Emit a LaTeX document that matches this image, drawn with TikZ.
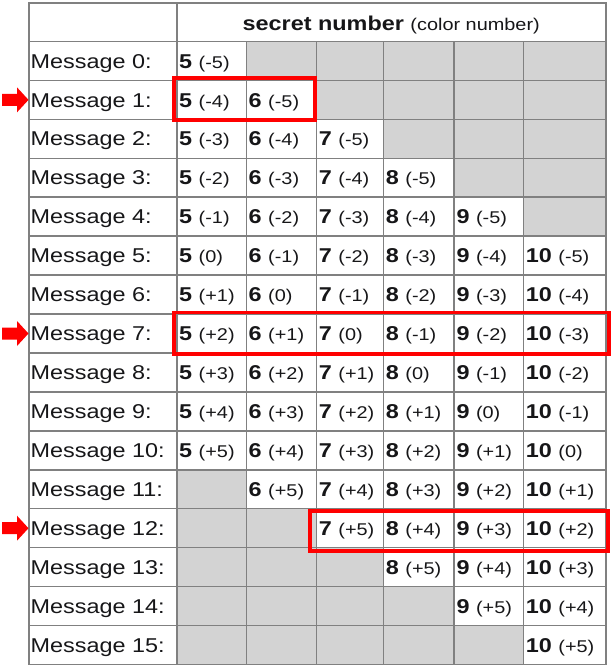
\documentclass[tikz,border=0pt]{standalone}
\usepackage{fontspec}
\setmainfont[FakeStretch=1.17, BoldFeatures={FakeStretch=1.17}]{Liberation Sans}
\definecolor{gridgray}{RGB}{128,128,128}
\definecolor{emptygray}{RGB}{211,211,211}
\definecolor{inkblack}{RGB}{22,22,24}
\definecolor{markred}{RGB}{255,0,0}
\newcommand\colsize{\fontsize{17}{20}\selectfont}
\newcommand\numsize{\fontsize{20}{24}\selectfont}
\tikzset{
  cell/.style={draw=gridgray, line width=1.5pt, inner sep=0pt, anchor=north west},
  blank/.style={cell, fill=emptygray},
  msgtext/.style={anchor=base west, inner sep=0pt, text=inkblack, font=\numsize},
  hilite/.style={draw=markred, line width=3.6pt},
  pointer/.style={fill=markred}
}
\begin{document}
\begin{tikzpicture}[x=1pt,y=-1pt]
  \useasboundingbox (0,0) rectangle (612,668);
  \node[cell, minimum width=148pt, minimum height=38.4pt] (corner) at (28,2.3) {};
  \node[cell, minimum width=429pt, minimum height=38.4pt] (head) at (176,2.3) {};
  \node[anchor=base, inner sep=0pt, text=inkblack, font=\numsize] (headtext) at ([yshift=-7.8pt]head.center)
    {{\bfseries secret number\ }{\colsize(color number)}};
  \foreach \r in {0,...,15} {
    \pgfmathsetmacro\rowtop{40.7+\r*38.94}
    \node[cell, minimum width=148pt, minimum height=38.94pt] (m-\r) at (28,\rowtop) {};
    \node[msgtext] (mt-\r) at ([xshift=2.5pt,yshift=-7.2pt]m-\r.west) {Message \r:};
    \foreach \c/\x/\w in {0/176/69.5, 1/245.5/70.2, 2/315.7/67, 3/382.7/70.6, 4/453.3/69.4, 5/522.7/82.3} {
      \pgfmathtruncatemacro\v{\r-5-\c}
      \pgfmathtruncatemacro\n{\c+5}
      \pgfmathtruncatemacro\used{and(\v>-6,\v<6)}
      \ifnum\used=1
        \node[cell, minimum width=\w pt, minimum height=38.94pt] (c-\r-\c) at (\x,\rowtop) {};
        \node[msgtext] (t-\r-\c) at ([xshift=3pt,yshift=-7.2pt]c-\r-\c.west)
          {{\bfseries\n}\ {\colsize(\ifnum\v>0 +\fi\v)}};
      \else
        \node[blank, minimum width=\w pt, minimum height=38.94pt] (c-\r-\c) at (\x,\rowtop) {};
      \fi
    }
  }
  \draw[hilite] ([xshift=-2.3pt,yshift=1.6pt]c-1-0.north west) rectangle ([xshift=-2pt]c-1-1.south east);
  \draw[hilite] ([xshift=-2.3pt,yshift=0.8pt]c-7-0.north west) rectangle ([xshift=2.5pt]c-7-5.south east);
  \draw[hilite] ([xshift=-5.7pt,yshift=-3pt]c-12-2.north west) rectangle ([xshift=1.5pt,yshift=-2.7pt]c-12-5.south east);
  \foreach \r in {1,7,12}
    \fill[pointer] ([xshift=0.5pt]m-\r.west) -- ++(-11.5,-12.5) -- ++(0,6.5) -- ++(-15,0)
      -- ++(0,12) -- ++(15,0) -- ++(0,6.5) -- cycle;
\end{tikzpicture}
\end{document}
